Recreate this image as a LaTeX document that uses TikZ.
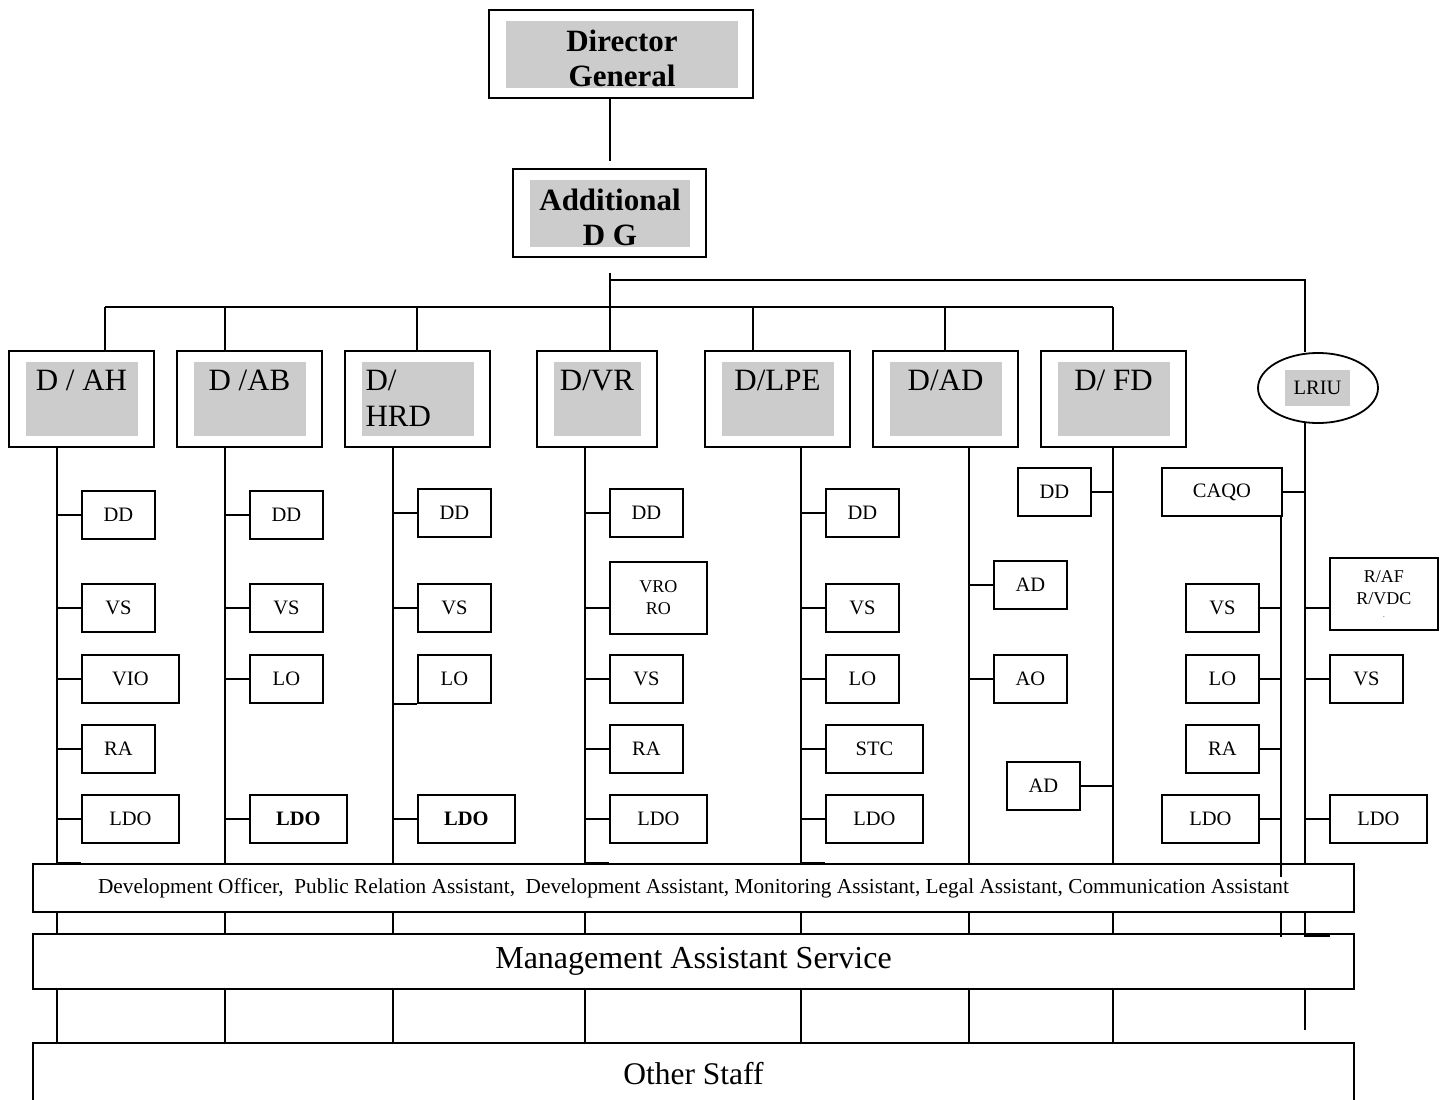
\documentclass[tikz,border=0pt]{standalone}
\usepackage{fontspec}
\setmainfont{Liberation Serif}
\usetikzlibrary{shapes.geometric, calc}

\begin{document}
\begin{tikzpicture}[
        x=1pt, y=-1pt, line width=1.8pt,
        chief/.style={draw, minimum height=88pt, inner sep=0pt},
        chiefgrey/.style={fill=black!20, minimum height=67pt, inner sep=0pt},
        chieftext/.style={align=center, inner sep=0pt, font=\fontsize{31}{35}\selectfont\bfseries},
        dbox/.style={draw, minimum width=145pt, minimum height=96pt, inner sep=0pt},
        gbox/.style={fill=black!20, minimum width=112pt, minimum height=74pt, inner sep=0pt},
        dlabel/.style={anchor=north, inner xsep=4pt, inner ysep=8pt, font=\fontsize{31}{36}\selectfont},
        sbox/.style={draw, anchor=west, minimum width=73pt, minimum height=48pt, inner sep=0pt, font=\fontsize{20.5}{24}\selectfont},
        wsbox/.style={sbox, minimum width=97pt},
        tbox/.style={sbox, minimum height=72pt, align=center, font=\fontsize{18}{22}\selectfont},
        barbox/.style={draw, fill=white, minimum width=1321pt, inner sep=0pt}
    ]
    \useasboundingbox (0,0) rectangle (1444,1100);

    % top of the chart
    \node[chief, minimum width=264pt] (dg) at (621,54) {};
    \node[chiefgrey, minimum width=232pt] (dgg) at (622,54.5) {};
    \node[chieftext] at ($(dgg)+(0,3.5)$) {Director\\General};
    \node[chief, minimum width=193pt] (adg) at (609.5,213) {};
    \node[chiefgrey, minimum width=160pt] (adgg) at (610,213) {};
    \node[chieftext] at ($(adgg)+(0,4)$) {Additional\\D G};

    % directorates
    \node[dbox] (ah) at (81.5,399) {};
    \node[gbox, label={[dlabel]north:D / AH}] (ahg) at (ah) {};
    \node[dbox] (ab) at (249.5,399) {};
    \node[gbox, label={[dlabel]north:D /AB}] (abg) at (ab) {};
    \node[dbox] (hrd) at (417.5,399) {};
    \node[gbox, label={[dlabel, text width=104pt, align=left]north:D/\\HRD}] (hrdg) at (hrd) {};
    \node[dbox, minimum width=120pt] (vr) at (597,399) {};
    \node[gbox, minimum width=87pt, label={[dlabel]north:D/VR}] (vrg) at (vr) {};
    \node[dbox] (lpe) at (777.5,399) {};
    \node[gbox, label={[dlabel]north:D/LPE}] (lpeg) at (lpe) {};
    \node[dbox] (ad) at (945.5,399) {};
    \node[gbox, label={[dlabel]north:D/AD}] (adg2) at (ad) {};
    \node[dbox] (fd) at (1113.5,399) {};
    \node[gbox, label={[dlabel]north:D/ FD}] (fdg) at (fd) {};
    \node[draw, ellipse, minimum width=120pt, minimum height=70pt] (lriu) at (1318,388) {};
    \node[fill=black!20, minimum width=65pt, minimum height=36pt, inner sep=0pt, font=\fontsize{20.5}{24}\selectfont] (lriug) at (1317.5,388) {LRIU};

    % bus lines
    \coordinate (spine) at (610,0);
    \coordinate (ubus) at (610,280);
    \coordinate (dAH) at (105,307);
    \coordinate (dAB) at (225,307);
    \coordinate (dHRD) at (417,307);
    \coordinate (dLPE) at (753,307);
    \coordinate (dAD) at (945,307);
    \coordinate (dFD) at (1113,307);
    \coordinate (tAH) at (57,447);
    \coordinate (tAB) at (225,447);
    \coordinate (tHRD) at (393,447);
    \coordinate (tVR) at (585,447);
    \coordinate (tLPE) at (801,447);
    \coordinate (tAD) at (969,447);
    \coordinate (tFD) at (1113,447);
    \coordinate (tLR) at (1305,422);
    \coordinate (tQ) at (1281,516);

    \draw[shorten >=7pt] (dg.south -| spine) -- (adg.north -| spine);
    \draw[shorten <=15pt] (adg.south -| spine) -- (vr.north -| spine);
    \draw (ubus) -| (lriu.north -| tLR);
    \draw (dAH) -- (dFD);
    \foreach \d/\n in {dAH/ah, dAB/ab, dHRD/hrd, dLPE/lpe, dAD/ad, dFD/fd}
        \draw (\d) -- (\d |- \n.north);

    % staff bars
    \node[barbox, minimum height=48pt, font=\fontsize{21.3}{24}\selectfont] (dev) at (693.5,888) {Development Officer,~ Public Relation Assistant,~ Development Assistant, Monitoring Assistant, Legal Assistant, Communication Assistant};
    \node[barbox, minimum height=55pt, font=\fontsize{32}{36}\selectfont] (mas) at (693.5,961.5) {Management Assistant Service};
    \node[barbox, minimum height=62pt, font=\fontsize{31.5}{36}\selectfont] (other) at (693.5,1074) {Other Staff};

    \foreach \t in {tAH, tAB, tHRD, tVR, tLPE, tAD, tFD} {
        \draw (\t) -- (\t |- dev.north);
        \draw (\t |- dev.south) -- (\t |- mas.north);
        \draw (\t |- mas.south) -- (\t |- other.north);
    }
    \foreach \t in {tAH, tVR, tLPE}
        \draw (\t |- dev.north) -- ++(24,0);

    % D / AH
    \node[sbox] (ahdd) at (81,515) {DD};
    \node[sbox] (ahvs) at (81,608) {VS};
    \node[wsbox] (ahvio) at (81,679) {VIO};
    \node[sbox] (ahra) at (81,749) {RA};
    \node[wsbox] (ahldo) at (81,819) {LDO};
    \foreach \n in {ahdd, ahvs, ahvio, ahra, ahldo}
        \draw (\n.west) -- (\n.west -| tAH);

    % D /AB
    \node[sbox] (abdd) at (249,515) {DD};
    \node[sbox] (abvs) at (249,608) {VS};
    \node[sbox] (ablo) at (249,679) {LO};
    \node[wsbox, font=\fontsize{20.5}{24}\selectfont\bfseries] (abldo) at (249,819) {LDO};
    \foreach \n in {abdd, abvs, ablo, abldo}
        \draw (\n.west) -- (\n.west -| tAB);

    % D/ HRD
    \node[sbox] (hrddd) at (417,513) {DD};
    \node[sbox] (hrdvs) at (417,608) {VS};
    \node[sbox] (hrdlo) at (417,679) {LO};
    \node[wsbox, font=\fontsize{20.5}{24}\selectfont\bfseries] (hrdldo) at (417,819) {LDO};
    \foreach \n in {hrddd, hrdvs, hrdldo}
        \draw (\n.west) -- (\n.west -| tHRD);
    \draw (hrdlo.south west) -- (hrdlo.south west -| tHRD);

    % D/VR
    \node[sbox] (vrdd) at (609,513) {DD};
    \node[tbox, minimum width=97pt] (vrvro) at (609,598) {VRO\\RO};
    \node[sbox] (vrvs) at (609,679) {VS};
    \node[sbox] (vrra) at (609,749) {RA};
    \node[wsbox] (vrldo) at (609,819) {LDO};
    \coordinate (vrk) at ($(vrvro.west)+(0,10)$);
    \draw (vrk) -- (vrk -| tVR);
    \foreach \n in {vrdd, vrvs, vrra, vrldo}
        \draw (\n.west) -- (\n.west -| tVR);

    % D/LPE
    \node[sbox] (lpedd) at (825,513) {DD};
    \node[sbox] (lpevs) at (825,608) {VS};
    \node[sbox] (lpelo) at (825,679) {LO};
    \node[wsbox] (lpestc) at (825,749) {STC};
    \node[wsbox] (lpeldo) at (825,819) {LDO};
    \foreach \n in {lpedd, lpevs, lpelo, lpestc, lpeldo}
        \draw (\n.west) -- (\n.west -| tLPE);

    % D/AD
    \node[sbox] (adad) at (993,585) {AD};
    \node[sbox] (adao) at (993,679) {AO};
    \foreach \n in {adad, adao}
        \draw (\n.west) -- (\n.west -| tAD);

    % D/ FD
    \node[sbox] (fddd) at (1017,492) {DD};
    \node[sbox] (fdad) at (1006,786) {AD};
    \foreach \n in {fddd, fdad}
        \draw (\n.east) -- (\n.east -| tFD);

    % LRIU
    \node[sbox, minimum width=120pt] (caqo) at (1161,492) {CAQO};
    \node[sbox] (qvs) at (1185,608) {VS};
    \node[sbox] (qlo) at (1185,679) {LO};
    \node[sbox] (qra) at (1185,749) {RA};
    \node[wsbox] (qldo) at (1161,819) {LDO};
    \draw (caqo.east) -- (caqo.east -| tLR);
    \foreach \n in {qvs, qlo, qra, qldo}
        \draw (\n.east) -- (\n.east -| tQ);

    \node[tbox, minimum width=108pt] (raf) at (1329,594) {R/AF\\R/VDC\\[-9pt]{\fontsize{7}{7}\selectfont .}};
    \node[sbox] (lvs) at (1329,679) {VS};
    \node[wsbox] (lldo) at (1329,819) {LDO};
    \coordinate (rafk) at ($(raf.west)+(0,14)$);
    \draw (rafk) -- (rafk -| tLR);
    \foreach \n in {lvs, lldo}
        \draw (\n.west) -- (\n.west -| tLR);

    % loose ends round the bars
    \coordinate (qcut) at (1281,877);
    \coordinate (qend) at (1281,937);
    \coordinate (lrend) at (1305,936);
    \coordinate (lrfoot) at (1305,1030);
    \draw (tQ) -- (qcut);
    \draw (tQ |- dev.south) -- (qend);
    \draw (tLR) -- (tLR |- dev.north);
    \draw (tLR |- dev.south) -- (lrend) -- ++(25,0);
    \draw (tLR |- mas.south) -- (lrfoot);
\end{tikzpicture}
\end{document}
